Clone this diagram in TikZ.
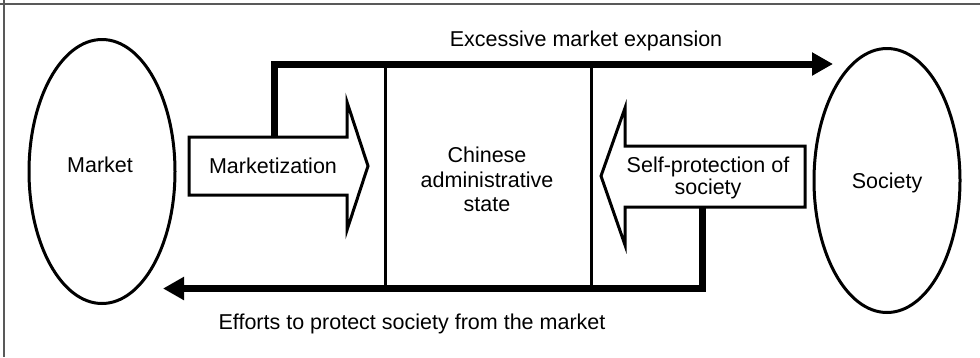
\documentclass[tikz,border=0pt]{standalone}
\usepackage{fontspec}
\setmainfont{Liberation Sans}
\usetikzlibrary{shapes.geometric,arrows.meta}
\begin{document}
\begin{tikzpicture}[x=1pt,y=-1pt,
  lbl/.style={font=\fontsize{21.5}{24.5}\selectfont, inner sep=0pt, align=center},
  oval/.style={ellipse, draw, line width=3pt, minimum width=146pt, minimum height=264pt, inner sep=0pt},
  wall/.style={line width=3pt},
  bigarrow/.style={draw, line width=3pt, line join=miter, fill=white},
  flow/.style={line width=7pt, line join=miter, -{Triangle[length=21pt,width=22pt]}},
  frame/.style={line width=1.2pt, draw=black!65}]
\useasboundingbox (0,0) rectangle (980,357);
% frame (top and left edges)
\draw[frame] (0,4) -- (980,4);
\draw[frame] (4,0) -- (4,357);
% ellipses
\node[oval] (market) at (102,171.5) {};
\node[lbl, anchor=base] (marketlbl) at (100,172) {Market};
\node[oval] (society) at (887,180.5) {};
\node[lbl, anchor=base] (societylbl) at (887,188) {Society};
% state box walls
\coordinate (wallLtop) at (385,64);
\coordinate (wallLbot) at (385,288.5);
\coordinate (wallRtop) at (591,64);
\coordinate (wallRbot) at (591,288.5);
\draw[wall] (wallLtop) -- (wallLbot);
\draw[wall] (wallRtop) -- (wallRbot);
\node[lbl] (state) at (487,179.7) {Chinese\\administrative\\state};
% marketization arrow
\draw[bigarrow] (189,137) coordinate (mkzTL) -- (347,137) -- (347,102) -- (368,166) -- (347,230) -- (347,195) -- (189,195) -- cycle;
\node[lbl, anchor=base] (mkz) at (273,173) {Marketization};
% self-protection arrow
\draw[bigarrow] (805,146) -- (625,146) -- (625,108) -- (601,176) -- (625,245) -- (625,207) -- (805,207) -- cycle;
\node[lbl, font=\fontsize{21.5}{22}\selectfont] (selfprot) at (708,178.4) {Self-protection of\\society};
% flows
\coordinate (upStart) at (274.5,137);
\coordinate (upCorner) at (274.5,64);
\coordinate (upEnd) at (833,64);
\draw[flow] (upStart) -- (upCorner) -- (upEnd);
\node[lbl, anchor=base] (excess) at (586,46) {Excessive market expansion};
\coordinate (dnStart) at (702.5,207);
\coordinate (dnCorner) at (702.5,288.5);
\coordinate (dnEnd) at (163,288.5);
\draw[flow] (dnStart) -- (dnCorner) -- (dnEnd);
\node[lbl, anchor=base] (efforts) at (412,329) {Efforts to protect society from the market};
\end{tikzpicture}
\end{document}
